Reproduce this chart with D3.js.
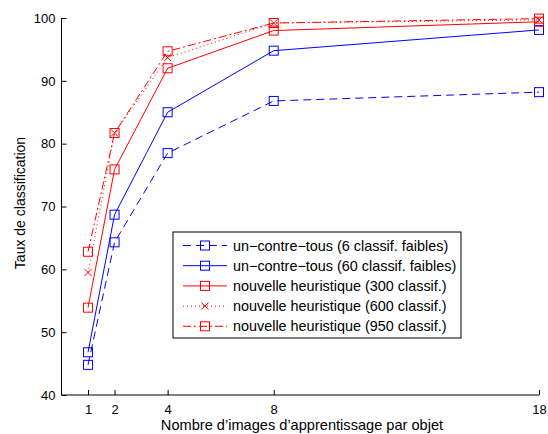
<!DOCTYPE html>
<html><head><meta charset="utf-8">
<script src="https://cdn.jsdelivr.net/npm/d3@7"></script>
<style>body{margin:0;background:#fff}svg{display:block}text{font-family:"Liberation Sans",Arial,Helvetica,sans-serif}</style>
</head><body><svg id="c" width="548" height="434"></svg>
<script>
const xValues = [1, 2, 4, 8, 18];
const xTicks = [1, 2, 4, 8, 18];
const yTicks = [40, 50, 60, 70, 80, 90, 100];
const seriesNames = [
  "un−contre−tous (6 classif. faibles)",
  "un−contre−tous (60 classif. faibles)",
  "nouvelle heuristique (300 classif.)",
  "nouvelle heuristique (600 classif.)",
  "nouvelle heuristique (950 classif.)"
];
const s6 = [44.8, 64.3, 78.5, 86.8, 88.2];
const s60 = [46.8, 68.7, 85.0, 94.8, 98.1];
const s300 = [53.9, 75.9, 92.0, 98.0, 99.4];
const s600 = [59.5, 81.7, 93.7, 99.2, 99.7];
const s950 = [62.8, 81.7, 94.7, 99.2, 99.9];
const xLabel = "Nombre d’images d’apprentissage par objet";
const yLabel = "Taux de classification";

const styles = [
  {color:"#0000ff", dash:"8,5", marker:"square"},
  {color:"#0000ff", dash:null, marker:"square"},
  {color:"#ff0000", dash:null, marker:"square"},
  {color:"#ff0000", dash:"1,3", marker:"x"},
  {color:"#ff0000", dash:"8,3,2,3", marker:"square"}
];
const allSeries = [s6, s60, s300, s600, s950];

const svg = d3.select("#c");
const x = d3.scaleLinear().domain([0, 18]).range([61.5, 539]);
const y = d3.scaleLinear().domain([40, 100]).range([395, 18]);

const gx = svg.append("g").attr("transform", "translate(0,395)")
  .call(d3.axisBottom(x).tickValues(xTicks).tickSizeInner(-5).tickSizeOuter(0).tickPadding(9.5));
const gy = svg.append("g").attr("transform", `translate(${x(0)},0)`)
  .call(d3.axisLeft(y).tickValues(yTicks).tickSizeInner(-5).tickSizeOuter(0).tickPadding(6));
[gx, gy].forEach(g => {
  g.select(".domain").attr("stroke", "#000").attr("stroke-width", 1);
  g.selectAll(".tick line").attr("stroke", "#000");
  g.selectAll(".tick text").attr("font-size", 13).attr("fill", "#000")
    .attr("font-family", '"Liberation Sans",Arial,sans-serif');
});
gx.select(".domain").attr("d", `M${x(0)},0H${x(18)}`);
gy.select(".domain").attr("d", `M0,${y(40)}V${y(100)}`);

function drawMarker(g, type, cx, cy, color) {
  if (type === "square") {
    g.append("rect").attr("x", cx - 4.5).attr("y", cy - 4.5).attr("width", 9).attr("height", 9)
      .attr("fill", "none").attr("stroke", color).attr("stroke-width", 1);
  } else {
    g.append("path").attr("d", `M${cx-3.5},${cy-3.5}L${cx+3.5},${cy+3.5}M${cx-3.5},${cy+3.5}L${cx+3.5},${cy-3.5}`)
      .attr("stroke", color).attr("stroke-width", 1).attr("fill", "none");
  }
}

const line = d3.line().x(d => x(d[0])).y(d => y(d[1]));
allSeries.forEach((vals, i) => {
  const st = styles[i];
  const pts = xValues.map((xv, j) => [xv, vals[j]]);
  const g = svg.append("g");
  g.append("path").attr("d", line(pts)).attr("fill", "none").attr("stroke", st.color)
    .attr("stroke-width", 1).attr("stroke-dasharray", st.dash);
  pts.forEach(p => drawMarker(g, st.marker, x(p[0]), y(p[1]), st.color));
});

const lg = svg.append("g");
lg.append("rect").attr("x", 173).attr("y", 232).attr("width", 288).attr("height", 106)
  .attr("fill", "#fff").attr("stroke", "#000").attr("stroke-width", 1);
seriesNames.forEach((name, i) => {
  const st = styles[i];
  const ly = 245.5 + i * 20.2;
  lg.append("line").attr("x1", 183).attr("x2", 227).attr("y1", ly).attr("y2", ly)
    .attr("stroke", st.color).attr("stroke-width", 1).attr("stroke-dasharray", st.dash);
  drawMarker(lg, st.marker, 205, ly, st.color);
  lg.append("text").attr("x", 233).attr("y", ly).attr("dy", "0.35em").attr("font-size", 14.4)
    .attr("fill", "#000").text(name);
});

svg.append("text").attr("x", 302).attr("y", 429.5).attr("text-anchor", "middle")
  .attr("font-size", 14.6).attr("fill", "#000").text(xLabel);
svg.append("text").attr("transform", "translate(25,203) rotate(-90)").attr("text-anchor", "middle")
  .attr("font-size", 14).attr("fill", "#000").text(yLabel);
</script></body></html>
